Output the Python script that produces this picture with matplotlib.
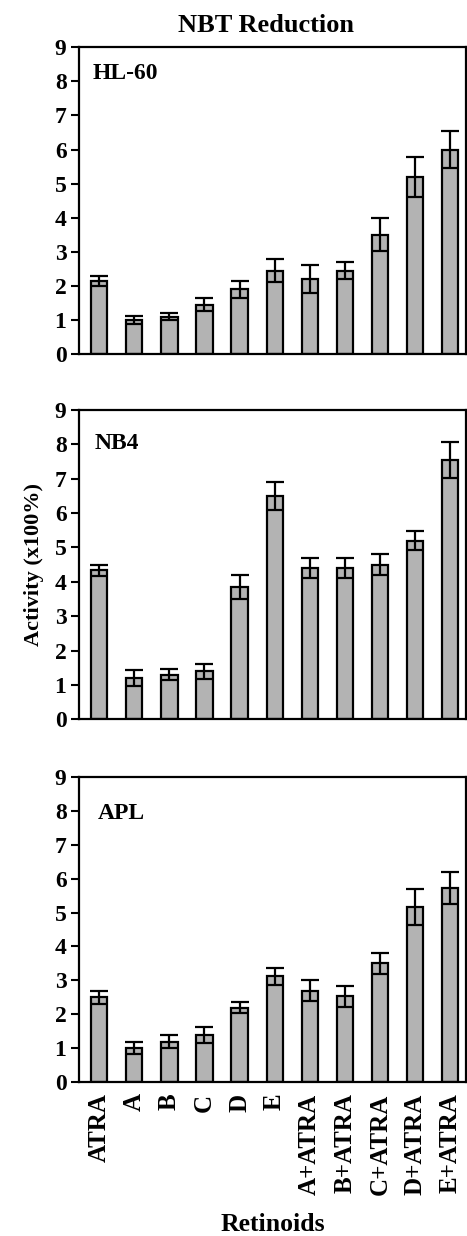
import matplotlib
matplotlib.use("Agg")
import matplotlib.pyplot as plt
import numpy as np

categories = ["ATRA", "A", "B", "C", "D", "E",
              "A+ATRA", "B+ATRA", "C+ATRA", "D+ATRA", "E+ATRA"]

hl60_vals = [2.15, 1.0, 1.1, 1.45, 1.9, 2.45, 2.2, 2.45, 3.5, 5.2, 6.0]
hl60_err = [0.15, 0.12, 0.1, 0.2, 0.25, 0.35, 0.4, 0.25, 0.48, 0.58, 0.55]

nb4_vals = [4.33, 1.2, 1.3, 1.4, 3.85, 6.5, 4.4, 4.4, 4.5, 5.2, 7.55]
nb4_err = [0.17, 0.22, 0.17, 0.22, 0.35, 0.4, 0.3, 0.3, 0.3, 0.28, 0.52]

apl_vals = [2.5, 1.0, 1.2, 1.4, 2.2, 3.12, 2.7, 2.53, 3.5, 5.15, 5.72]
apl_err = [0.18, 0.18, 0.18, 0.23, 0.17, 0.25, 0.3, 0.3, 0.3, 0.53, 0.47]

panel_names = ["HL-60", "NB4", "APL"]
y_ticks = list(range(0, 10))

plt.rcParams['font.family'] = ['Liberation Serif', 'DejaVu Serif']
plt.rcParams['font.weight'] = 'bold'

W, H = 467, 1236
fig = plt.figure(figsize=(W / 100, H / 100), dpi=100)

left = 79 / W
right = 466 / W
panels_px = [(47.3, 354.0), (410.0, 719.3), (776.7, 1082.3)]
label_pos = [(0.034, 0.915), (0.04, 0.893), (0.048, 0.88)]

data = [(hl60_vals, hl60_err), (nb4_vals, nb4_err), (apl_vals, apl_err)]
x = np.arange(len(categories))

axes = []
for i, ((top, bot), (vals, errs)) in enumerate(zip(panels_px, data)):
    ax = fig.add_axes([left, 1 - bot / H, right - left, (bot - top) / H])
    ax.bar(x, vals, width=0.46, color='#b3b3b3', edgecolor='black',
           linewidth=1.6, zorder=2)
    ax.errorbar(x, vals, yerr=errs, fmt='none', ecolor='black',
                elinewidth=1.6, capsize=6.5, capthick=1.6, zorder=3)
    ax.set_xlim(-0.58, 10.46)
    ax.set_ylim(0, 9)
    ax.set_yticks(y_ticks)
    ax.set_yticklabels([str(t) for t in y_ticks], fontsize=17, fontweight='bold')
    ax.tick_params(axis='y', direction='out', length=6, width=1.5, pad=3)
    for sp in ax.spines.values():
        sp.set_linewidth(1.6)
    ax.text(label_pos[i][0], label_pos[i][1], panel_names[i],
            transform=ax.transAxes, fontsize=17, fontweight='bold',
            ha='left', va='center')
    ax.set_xticks(x)
    if i == 2:
        ax.set_xticklabels(categories, rotation=90, fontsize=18,
                           fontweight='bold')
        ax.tick_params(axis='x', length=0, pad=8)
        ax.set_xlabel("Retinoids", fontsize=18.5, fontweight='bold', labelpad=13)
    else:
        ax.set_xticklabels([])
        ax.tick_params(axis='x', length=0)
    axes.append(ax)

axes[1].set_ylabel("Activity (x100%)", fontsize=16, fontweight='bold', labelpad=8)
fig.text(266 / W, 1 - 25 / H, "NBT Reduction", fontsize=19, fontweight='bold',
         ha='center', va='center')

fig.savefig("out.png", dpi=100)
